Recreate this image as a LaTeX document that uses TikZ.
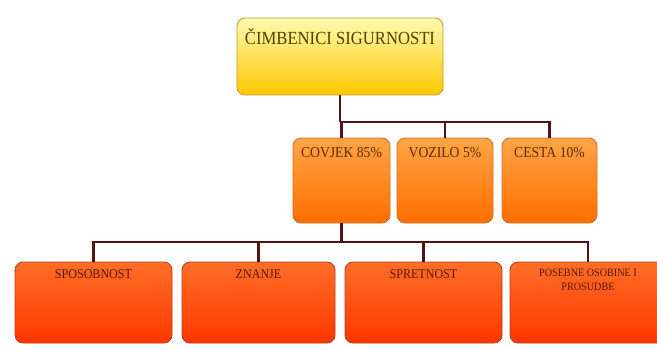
\documentclass[tikz,border=0pt]{standalone}
\usepackage{fontspec}
\setmainfont{Liberation Serif}[FakeStretch=0.9]
\definecolor{tbord}{RGB}{200,150,40}
\definecolor{ttop}{RGB}{255,250,175}
\definecolor{tbot}{RGB}{255,200,0}
\definecolor{mbord}{RGB}{210,110,40}
\definecolor{mtop}{RGB}{255,165,70}
\definecolor{mbot}{RGB}{255,110,0}
\definecolor{lbord}{RGB}{190,60,20}
\definecolor{ltop}{RGB}{255,110,40}
\definecolor{lbot}{RGB}{255,55,0}
\definecolor{conncol}{RGB}{80,20,20}
\definecolor{ttcol}{RGB}{80,65,0}
\definecolor{mtcol}{RGB}{95,40,0}
\definecolor{ltcol}{RGB}{95,20,5}
\begin{document}
\begin{tikzpicture}[x=1pt,y=1pt,
  box/.style={draw=#1, line width=0.8pt, rounded corners=8pt, inner sep=0pt},
  topbox/.style={box=tbord, top color=ttop, bottom color=tbot},
  midbox/.style={box=mbord, top color=mtop, bottom color=mbot},
  lowbox/.style={box=lbord, top color=ltop, bottom color=lbot},
  conn/.style={draw=conncol, line width=2.5pt},
  ttxt/.style={anchor=north, inner sep=0pt, text=ttcol, font=\fontsize{18.5}{20}\selectfont},
  mtxt/.style={anchor=north, inner sep=0pt, text=mtcol, font=\fontsize{15.2}{16}\selectfont},
  ltxt/.style={anchor=north, inner sep=0pt, align=center, text=ltcol, font=\fontsize{13.4}{14}\selectfont},
]
\useasboundingbox[fill=white] (0,0) rectangle (657,349);
% top
\node[topbox, minimum width=206pt, minimum height=77pt] (t) at (340,292.5) {};
\node[ttxt] (tt) at ([yshift=-11pt]t.north) {ČIMBENICI SIGURNOSTI};
% middle
\node[midbox, minimum width=97pt, minimum height=85pt] (c1) at (341.5,168.5) {};
\node[midbox, minimum width=96pt, minimum height=85pt] (c2) at (445,168.5) {};
\node[midbox, minimum width=95pt, minimum height=85pt] (c3) at (549.5,168.5) {};
\node[mtxt] (c1t) at ([yshift=-10pt]c1.north) {COVJEK 85\%};
\node[mtxt] (c2t) at ([yshift=-10pt]c2.north) {VOZILO 5\%};
\node[mtxt] (c3t) at ([yshift=-10pt]c3.north) {CESTA 10\%};
% bottom
\node[lowbox, minimum width=157pt, minimum height=81pt] (b1) at (93.5,46.5) {};
\node[lowbox, minimum width=153pt, minimum height=81pt] (b2) at (258.5,46.5) {};
\node[lowbox, minimum width=157pt, minimum height=81pt] (b3) at (423.5,46.5) {};
\node[lowbox, minimum width=156pt, minimum height=81pt] (b4) at (588,46.5) {};
\node[ltxt] (b1t) at ([yshift=-8pt]b1.north) {SPOSOBNOST};
\node[ltxt] (b2t) at ([yshift=-8pt]b2.north) {ZNANJE};
\node[ltxt] (b3t) at ([yshift=-8pt]b3.north) {SPRETNOST};
\node[ltxt, font=\fontsize{11.3}{14}\selectfont] (b4t) at ([yshift=-7pt]b4.north) {POSEBNE OSOBINE I\\PROSUDBE};
% connectors
\coordinate (bus1) at (341.5,227);
\coordinate (bus2) at (341.5,107);
\draw[conn] (t.south) -- (t.south |- bus1);
\draw[conn] (c1.north) -- (c1.north |- bus1) -| (c3.north);
\draw[conn] (c2.north) -- (c2.north |- bus1);
\draw[conn] (c1.south) -- (c1.south |- bus2);
\draw[conn] (b1.north) |- (bus2) -| (b4.north);
\draw[conn] (b2.north) -- (b2.north |- bus2);
\draw[conn] (b3.north) -- (b3.north |- bus2);
\end{tikzpicture}
\end{document}
